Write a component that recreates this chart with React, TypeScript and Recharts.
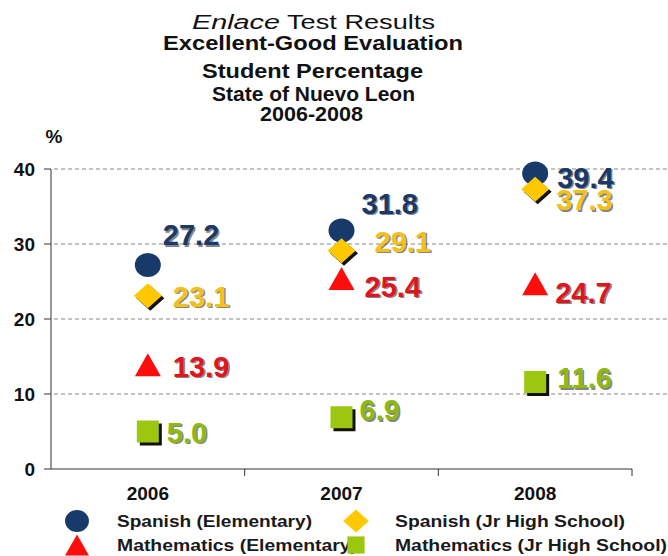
import React from "react";
import { ComposedChart, Line, XAxis, YAxis, ReferenceLine, LabelList } from "recharts";

const years = ["2006", "2007", "2008"];
const spanishElementary = [27.2, 31.8, 39.4];
const spanishJrHigh = [23.1, 29.1, 37.3];
const mathElementary = [13.9, 25.4, 24.7];
const mathJrHigh = [5.0, 6.9, 11.6];
const yTicks = [0, 10, 20, 30, 40];
const gridValues = [10, 20, 30, 40];
const seriesNames = [
    "Spanish (Elementary)",
    "Spanish (Jr High School)",
    "Mathematics (Elementary)",
    "Mathematics (Jr High School)",
];

const W = 668;
const H = 556;
const AXIS_LEFT = 51;
const MARGIN = { top: 169, right: 36, bottom: 57, left: 0 };
const BAND = (W - AXIS_LEFT - MARGIN.right) / years.length;
const FONT = "'Liberation Sans', Arial, sans-serif";

type Shape = "circle" | "diamond" | "triangle" | "square";

// label offsets (dx, dy) from the marker centre, per year
const series = [
    {
        key: "spanishElementary", name: seriesNames[0], shape: "circle" as Shape,
        color: "#173A6B", text: "#1B3968",
        offsets: [[15, -30], [20, -27], [22, 4]],
    },
    {
        key: "spanishJrHigh", name: seriesNames[1], shape: "diamond" as Shape,
        color: "#FFC800", text: "#F2C21B",
        offsets: [[25, 1], [33, -9], [21, 11]],
    },
    {
        key: "mathElementary", name: seriesNames[2], shape: "triangle" as Shape,
        color: "#FF0D0D", text: "#E2141C",
        offsets: [[25, 2], [23, 8], [20, 9]],
    },
    {
        key: "mathJrHigh", name: seriesNames[3], shape: "square" as Shape,
        color: "#9BC70F", text: "#8DBA0C",
        offsets: [[19, 1], [18, -7], [22, -4]],
    },
];

const data = years.map((year, i) => ({
    year,
    spanishElementary: spanishElementary[i],
    spanishJrHigh: spanishJrHigh[i],
    mathElementary: mathElementary[i],
    mathJrHigh: mathJrHigh[i],
}));

function marker(shape: Shape, cx: number, cy: number, color: string, scale: number, shadow: boolean) {
    const s = scale;
    switch (shape) {
        case "circle":
            return <ellipse cx={cx} cy={cy} rx={13 * s} ry={12 * s} fill={color} />;
        case "diamond": {
            const w = 14 * s, h = 12.5 * s;
            const pts = (dx: number, dy: number) =>
                `${cx + dx},${cy - h + dy} ${cx + w + dx},${cy + dy} ${cx + dx},${cy + h + dy} ${cx - w + dx},${cy + dy}`;
            return (
                <g>
                    {shadow && <polygon points={pts(2.5, 2.5)} fill="#111" />}
                    <polygon points={pts(0, 0)} fill={color} />
                </g>
            );
        }
        case "triangle": {
            const w = 13 * s, h = 11.5 * s;
            return <polygon points={`${cx},${cy - h} ${cx + w},${cy + h} ${cx - w},${cy + h}`} fill={color} />;
        }
        case "square": {
            const a = 11 * s;
            return (
                <g>
                    {shadow && <rect x={cx - a + 3} y={cy - a + 3} width={2 * a} height={2 * a} fill="#111" />}
                    <rect x={cx - a} y={cy - a} width={2 * a} height={2 * a} fill={color} />
                </g>
            );
        }
    }
}

function XTick(props: any) {
    const { x, y, payload } = props;
    const axisY = y - 7;
    return (
        <g>
            <line x1={x + BAND / 2} y1={axisY} x2={x + BAND / 2} y2={axisY + 7} stroke="#333" />
            <text x={x} y={y + 17} textAnchor="middle" dominantBaseline="central"
                fontFamily={FONT} fontWeight="bold" fontSize={19} fill="#111">
                {payload.value}
            </text>
        </g>
    );
}

function ChartOverlay() {
    const legendRows = [
        [series[0], series[1]],
        [series[2], series[3]],
    ];
    const legendText = [[195, 230], [240, 272]];
    return (
        <svg width={W} height={H} style={{ position: "absolute", left: 0, top: 0, pointerEvents: "none" }}>
            <g fontFamily={FONT} fill="#111">
                <text x={192} y={29} fontSize={20} fontStyle="italic" textLength={88} lengthAdjust="spacingAndGlyphs">Enlace</text>
                <text x={287} y={29} fontSize={20} textLength={148} lengthAdjust="spacingAndGlyphs">Test Results</text>
                <text x={163} y={50} fontSize={20} fontWeight="bold" textLength={300} lengthAdjust="spacingAndGlyphs">Excellent-Good Evaluation</text>
                <text x={202} y={78} fontSize={21} fontWeight="bold" textLength={221} lengthAdjust="spacingAndGlyphs">Student Percentage</text>
                <text x={212} y={101} fontSize={20} fontWeight="bold" textLength={203} lengthAdjust="spacingAndGlyphs">State of Nuevo Leon</text>
                <text x={260} y={121} fontSize={20} fontWeight="bold" textLength={103} lengthAdjust="spacingAndGlyphs">2006-2008</text>
                <text x={54} y={143} fontSize={19} fontWeight="bold" textAnchor="middle">%</text>
            </g>
            {legendRows.map((row, r) => {
                const cy = 521 + r * 24;
                return (
                    <g key={r}>
                        {row.map((s, c) => {
                            const mx = c === 0 ? 77 : 356;
                            const tx = c === 0 ? 117 : 395;
                            return (
                                <g key={s.key}>
                                    <text x={tx} y={cy} dominantBaseline="central" fontFamily={FONT}
                                        fontWeight="bold" fontSize={17} fill="#1a1a1a"
                                        textLength={legendText[r][c]} lengthAdjust="spacingAndGlyphs">
                                        {s.name}
                                    </text>
                                    {marker(s.shape, mx, cy, s.color, s.shape === "square" ? 0.78 : 0.92, false)}
                                </g>
                            );
                        })}
                    </g>
                );
            })}
        </svg>
    );
}

export default function App() {
    return (
        <div style={{ position: "fixed", left: 0, top: 0, width: W, height: H, background: "#fff" }}>
            <ComposedChart width={W} height={H} data={data} margin={MARGIN}>
                {gridValues.map((v) => (
                    <ReferenceLine
                        key={v}
                        y={v}
                        shape={(p: any) => (
                            <line x1={p.x1 + 3} y1={p.y1} x2={W} y2={p.y2} stroke="#b0b0b0" strokeWidth={1.3} strokeDasharray="4 3" />
                        )}
                    />
                ))}
                <XAxis
                    dataKey="year"
                    scale="band"
                    height={30}
                    axisLine={{ stroke: "#333" }}
                    tickLine={false}
                    tickSize={7}
                    tickMargin={0}
                    tick={<XTick />}
                    interval={0}
                />
                <YAxis
                    width={AXIS_LEFT}
                    domain={[0, 40]}
                    ticks={yTicks}
                    axisLine={{ stroke: "#333" }}
                    tickLine={{ stroke: "#333" }}
                    tickSize={7}
                    tickMargin={9}
                    tick={{ fill: "#111", fontSize: 19, fontWeight: "bold", fontFamily: FONT }}
                />
                {series.map((s) => (
                    <Line
                        key={s.key}
                        dataKey={s.key}
                        name={s.name}
                        stroke="none"
                        isAnimationActive={false}
                        activeDot={false}
                        dot={(p: any) => (
                            <g key={`${s.key}-${p.index}`}>{marker(s.shape, p.cx, p.cy, s.color, 1, true)}</g>
                        )}
                    >
                        <LabelList
                            dataKey={s.key}
                            content={(p: any) => {
                                const [dx, dy] = s.offsets[p.index];
                                const txt = Number(p.value).toFixed(1);
                                return (
                                    <g>
                                        <text x={p.x + dx + 1.5} y={p.y + dy + 1.5} dominantBaseline="central"
                                            fontFamily={FONT} fontWeight="bold" fontSize={29} fill="#222" opacity={0.55}>
                                            {txt}
                                        </text>
                                        <text x={p.x + dx} y={p.y + dy} dominantBaseline="central"
                                            fontFamily={FONT} fontWeight="bold" fontSize={29} fill={s.text}>
                                            {txt}
                                        </text>
                                    </g>
                                );
                            }}
                        />
                    </Line>
                ))}
            </ComposedChart>
            <ChartOverlay />
        </div>
    );
}
